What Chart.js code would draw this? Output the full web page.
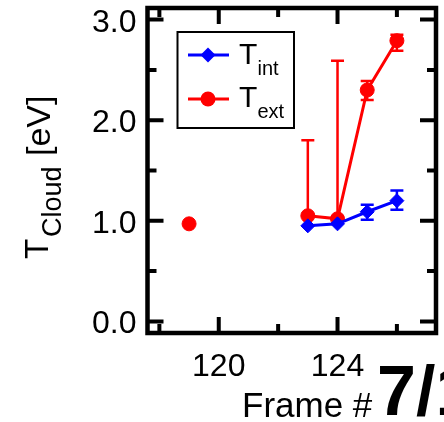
<!DOCTYPE html>
<html><head><meta charset="utf-8">
<script src="https://cdn.jsdelivr.net/npm/chart.js@4"></script>
<style>html,body{margin:0;padding:0;background:#fff;overflow:hidden}</style>
</head><body>
<canvas id="c" width="444" height="422" style="display:block;width:444px;height:422px"></canvas>
<script>
// ---- data ----
const extFrames = [119, 123, 124, 125, 126];
const tExt = [0.97, 1.05, 1.02, 2.30, 2.79];
const tExtErrLo = [0.97, 1.05, 1.02, 2.20, 2.69];
const tExtErrHi = [0.97, 1.80, 2.59, 2.39, 2.85];
const intFrames = [123, 124, 125, 126];
const tInt = [0.95, 0.97, 1.09, 1.20];
const tIntErrLo = [0.95, 0.97, 1.01, 1.11];
const tIntErrHi = [0.95, 0.97, 1.16, 1.30];
const xMajorTicks = [120, 124];
const xMinorTicks = [118, 122, 126];
const yMajorTicks = [0, 1, 2, 3];
const yMinorTicks = [0.5, 1.5, 2.5];

const RED = '#ff0000', BLUE = '#0000ff';
const FONT = '"Liberation Sans", Arial, Helvetica, sans-serif';

const extData = extFrames.map((f, i) => ({x: f, y: tExt[i]}));
const intData = intFrames.map((f, i) => ({x: f, y: tInt[i]}));

const errorBars = {
  id: 'errorBars',
  beforeDatasetsDraw(chart) {
    const ctx = chart.ctx, xs = chart.scales.x, ys = chart.scales.y;
    const sets = [
      {fr: extFrames, lo: tExtErrLo, hi: tExtErrHi, c: RED},
      {fr: intFrames, lo: tIntErrLo, hi: tIntErrHi, c: BLUE}
    ];
    ctx.save();
    ctx.lineWidth = 2.5;
    for (const s of sets) {
      ctx.strokeStyle = s.c;
      s.fr.forEach((f, i) => {
        if (s.hi[i] === s.lo[i]) return;
        const x = xs.getPixelForValue(f);
        const yl = ys.getPixelForValue(s.lo[i]);
        const yh = ys.getPixelForValue(s.hi[i]);
        ctx.beginPath();
        ctx.moveTo(x, yl); ctx.lineTo(x, yh);
        ctx.moveTo(x - 6.5, yh); ctx.lineTo(x + 6.5, yh);
        ctx.moveTo(x - 6.5, yl); ctx.lineTo(x + 6.5, yl);
        ctx.stroke();
      });
    }
    ctx.restore();
  }
};

const frameAndText = {
  id: 'frameAndText',
  afterDraw(chart) {
    const ctx = chart.ctx, a = chart.chartArea, xs = chart.scales.x, ys = chart.scales.y;
    ctx.save();
    // ticks
    ctx.strokeStyle = '#000';
    ctx.lineWidth = 4;
    ctx.beginPath();
    const tickX = (vals, len) => vals.forEach(v => {
      const x = xs.getPixelForValue(v);
      ctx.moveTo(x, a.bottom); ctx.lineTo(x, a.bottom - len);
      ctx.moveTo(x, a.top); ctx.lineTo(x, a.top + len);
    });
    const tickY = (vals, len) => vals.forEach(v => {
      const y = ys.getPixelForValue(v);
      ctx.moveTo(a.left, y); ctx.lineTo(a.left + len, y);
      ctx.moveTo(a.right, y); ctx.lineTo(a.right - len, y);
    });
    tickX(xMajorTicks, 16); tickX(xMinorTicks, 9);
    tickY(yMajorTicks, 16); tickY(yMinorTicks, 9);
    ctx.stroke();
    // frame
    ctx.lineWidth = 4.5;
    ctx.strokeRect(a.left, a.top, a.right - a.left, a.bottom - a.top);

    // legend
    ctx.lineWidth = 2;
    ctx.strokeRect(177.5, 32, 116.5, 96);
    const entries = [
      {y: 55, c: BLUE, sub: 'int', style: 'diamond', tb: 64, sb: 75},
      {y: 99, c: RED, sub: 'ext', style: 'circle', tb: 107, sb: 118}
    ];
    for (const e of entries) {
      ctx.strokeStyle = e.c; ctx.fillStyle = e.c; ctx.lineWidth = 3;
      ctx.beginPath(); ctx.moveTo(188, e.y); ctx.lineTo(229, e.y); ctx.stroke();
      ctx.beginPath();
      if (e.style === 'circle') ctx.arc(208, e.y, 7.5, 0, Math.PI * 2);
      else { ctx.moveTo(208, e.y - 7.5); ctx.lineTo(215.5, e.y); ctx.lineTo(208, e.y + 7.5); ctx.lineTo(200.5, e.y); ctx.closePath(); }
      ctx.fill();
      ctx.fillStyle = '#000';
      ctx.textBaseline = 'alphabetic'; ctx.textAlign = 'left';
      ctx.font = '30px ' + FONT;
      ctx.fillText('T', 239, e.tb);
      ctx.font = '20px ' + FONT;
      ctx.fillText(e.sub, 257.5, e.sb);
    }

    // x title
    ctx.fillStyle = '#000';
    ctx.font = '35px ' + FONT;
    ctx.fillText('Frame #', 242, 417);
    ctx.font = 'bold 70px ' + FONT;
    ctx.fillText('7/1', 377, 415);

    // y title (rotated)
    ctx.save();
    ctx.rotate(-Math.PI / 2);
    ctx.font = '33px ' + FONT;
    ctx.fillText('T', -259, 48);
    ctx.font = '27px ' + FONT;
    ctx.fillText('Cloud', -237, 61);
    ctx.font = '34px ' + FONT;
    ctx.fillText('[eV]', -156, 50);
    ctx.restore();
    ctx.restore();
  }
};

new Chart(document.getElementById('c'), {
  type: 'line',
  data: {
    datasets: [
      {
        label: 'T_int', data: intData,
        borderColor: BLUE, backgroundColor: BLUE, borderWidth: 3,
        pointStyle: 'rectRot', pointRadius: 7, pointBorderWidth: 1,
        pointBackgroundColor: BLUE, pointBorderColor: BLUE, tension: 0
      },
      {
        label: 'T_ext', data: extData,
        borderColor: RED, backgroundColor: RED, borderWidth: 3,
        pointStyle: 'circle', pointRadius: 7, pointBorderWidth: 1,
        pointBackgroundColor: RED, pointBorderColor: RED, tension: 0,
        segment: { borderColor: c => (c.p1.parsed.x - c.p0.parsed.x > 1.5 ? 'rgba(0,0,0,0)' : RED) }
      }
    ]
  },
  options: {
    responsive: false, animation: false, devicePixelRatio: 1,
    layout: { padding: { top: 8, right: 5, left: 0, bottom: 0 } },
    plugins: { legend: { display: false }, tooltip: { enabled: false }, title: { display: false } },
    scales: {
      x: {
        type: 'linear', min: 117.6, max: 127.317,
        grid: { display: false, drawTicks: false }, border: { display: false },
        afterBuildTicks: s => { s.ticks = xMajorTicks.map(v => ({value: v})); },
        afterFit: s => { s.height = 89; s.paddingLeft = 0; s.paddingRight = 0; },
        ticks: { color: '#000', font: { family: FONT, size: 32 }, padding: 15, maxRotation: 0, callback: v => String(v) }
      },
      y: {
        type: 'linear', min: -0.115, max: 3.115,
        grid: { display: false, drawTicks: false }, border: { display: false },
        afterBuildTicks: s => { s.ticks = yMajorTicks.map(v => ({value: v})); },
        afterFit: s => { s.width = 147.5; s.paddingTop = 0; s.paddingBottom = 0; },
        ticks: { color: '#000', font: { family: FONT, size: 32, lineHeight: 0.2 }, padding: 11,
                 callback: v => ['', Number(v).toFixed(1)] }
      }
    }
  },
  plugins: [errorBars, frameAndText]
});
</script>
</body></html>
